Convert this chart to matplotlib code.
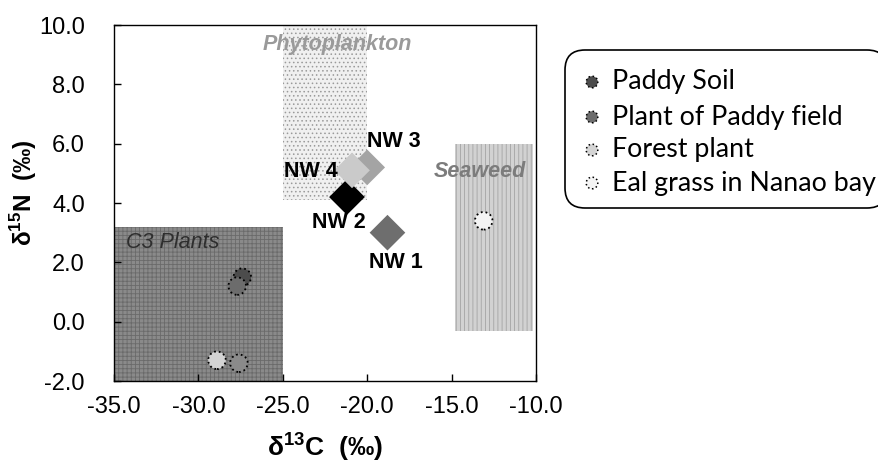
"""Stable isotope plot: d13C vs d15N for NW sediments and source end-members."""

import matplotlib

matplotlib.use("Agg")
import matplotlib.pyplot as plt
from matplotlib.patches import FancyBboxPatch, Rectangle

plt.rcParams["font.family"] = ["Liberation Sans", "DejaVu Sans"]
plt.rcParams["mathtext.fontset"] = "custom"
plt.rcParams["mathtext.rm"] = "Liberation Sans"
plt.rcParams["mathtext.bf"] = "Liberation Sans:bold"
plt.rcParams["hatch.linewidth"] = 0.6

# source regions (end-member boxes)
region_names = ["C3 Plants", "Phytoplankton", "Seaweed"]
region_x_lo = [-35.0, -25.0, -14.8]
region_x_hi = [-25.0, -20.0, -10.2]
region_y_lo = [-2.0, 4.1, -0.3]
region_y_hi = [3.2, 10.0, 6.0]

# sediment samples
nw_labels = ["NW 1", "NW 2", "NW 3", "NW 4"]
nw_d13c = [-18.8, -21.2, -20.0, -20.9]
nw_d15n = [3.0, 4.2, 5.2, 5.1]

# source samples (circles)
src_names = ["Paddy Soil", "Plant of Paddy field", "Forest plant", "Eal grass in Nanao bay"]
src_d13c = [-27.4, -27.7, -28.9, -13.1]
src_d15n = [1.5, 1.2, -1.3, 3.4]
extra_d13c = [-27.6]  # second plant-of-paddy-field point
extra_d15n = [-1.4]

x_ticks = [-35.0, -30.0, -25.0, -20.0, -15.0, -10.0]
y_ticks = [-2.0, 0.0, 2.0, 4.0, 6.0, 8.0, 10.0]

fig = plt.figure(figsize=(8.79, 4.63), dpi=100)
ax = fig.add_axes([0.1297, 0.1771, 0.4801, 0.7689])

region_face = ["#8a8a8a", "#f0f0f0", "#d2d2d2"]
region_hatch = ["++++", "....", "||||"]
region_hc = ["#6a6a6a", "#9a9a9a", "#a4a4a4"]
for i in range(len(region_names)):
    ax.add_patch(Rectangle((region_x_lo[i], region_y_lo[i]),
                           region_x_hi[i] - region_x_lo[i],
                           region_y_hi[i] - region_y_lo[i],
                           facecolor=region_face[i], edgecolor=region_hc[i],
                           hatch=region_hatch[i], linewidth=0, zorder=1))

txt = dict(fontsize=15.5, fontstyle="italic", fontweight="bold", zorder=3)
ax.text(-21.8, 9.33, region_names[1], color="#9a9a9a", ha="center", va="center", **txt)
ax.text(-13.3, 5.05, region_names[2], color="#7c7c7c", ha="center", va="center", **txt)
ax.text(-34.3, 2.66, region_names[0], color="#2e2e2e", ha="left", va="center",
        fontsize=15.5, fontstyle="italic", zorder=3)

src_colors = ["#4c4c4c", "#6c6c6c", "#d4d4d4", "#f4f4f4"]
ax.scatter(src_d13c, src_d15n, s=160, c=src_colors, edgecolors="black",
           linewidths=1.3, linestyle=":", zorder=4)
ax.scatter(extra_d13c, extra_d15n, s=160, c=["#8a8a8a"], edgecolors="black",
           linewidths=1.3, linestyle=":", zorder=4)

nw_colors = ["#6e6e6e", "#000000", "#a4a4a4", "#cacaca"]
ax.scatter(nw_d13c, nw_d15n, s=330, marker="D", c=nw_colors, linewidths=0, zorder=5)

nw_text_xy = [(-18.3, 1.98), (-21.7, 3.33), (-18.4, 6.06), (-23.35, 5.05)]
for lab, (tx, ty) in zip(nw_labels, nw_text_xy):
    ax.text(tx, ty, lab, fontsize=15.5, fontweight="bold", ha="center", va="center", zorder=6)

ax.set_xlim(-35, -10)
ax.set_ylim(-2, 10)
ax.set_xticks(x_ticks)
ax.set_yticks(y_ticks)
ax.set_xticklabels([f"{v:.1f}" for v in x_ticks])
ax.set_yticklabels([f"{v:.1f}" for v in y_ticks])
ax.tick_params(axis="both", direction="in", length=5, width=1, labelsize=17)
ax.tick_params(axis="y", pad=21)
ax.tick_params(axis="x", pad=11)
for s in ax.spines.values():
    s.set_linewidth(1.0)
    s.set_zorder(7)

ax.set_xlabel(r"δ$^{\mathbf{13}}$C  (‰)", fontsize=19, fontweight="bold", va="center")
ax.xaxis.set_label_coords(0.5, -0.185)
ax.set_ylabel(r"δ$^{\mathbf{15}}$N  (‰)", fontsize=17.5, fontweight="bold", va="center")
ax.yaxis.set_label_coords(-0.215, 0.53)

# legend box drawn by hand (rounded, runs off the right edge)
fig.add_artist(FancyBboxPatch((5.65, 2.55), 3.22, 1.58,
                              boxstyle="round,pad=0,rounding_size=0.2",
                              transform=fig.dpi_scale_trans, facecolor="white",
                              edgecolor="black", linewidth=1.2))
leg_ax = fig.add_axes([0, 0, 1, 1], zorder=10)
leg_ax.set_xlim(0, 879)
leg_ax.set_ylim(463, 0)
leg_ax.axis("off")
row_y = [82, 117, 150, 183]
leg_ax.scatter([592] * len(row_y), row_y, s=70, c=src_colors, edgecolors="black",
               linewidths=1.1, linestyle=":")
for name, yy in zip(src_names, row_y):
    leg_ax.text(612, yy, name, fontsize=19.3, family=["Lato", "DejaVu Sans"],
                ha="left", va="center")

fig.savefig("out.png", dpi=100)
